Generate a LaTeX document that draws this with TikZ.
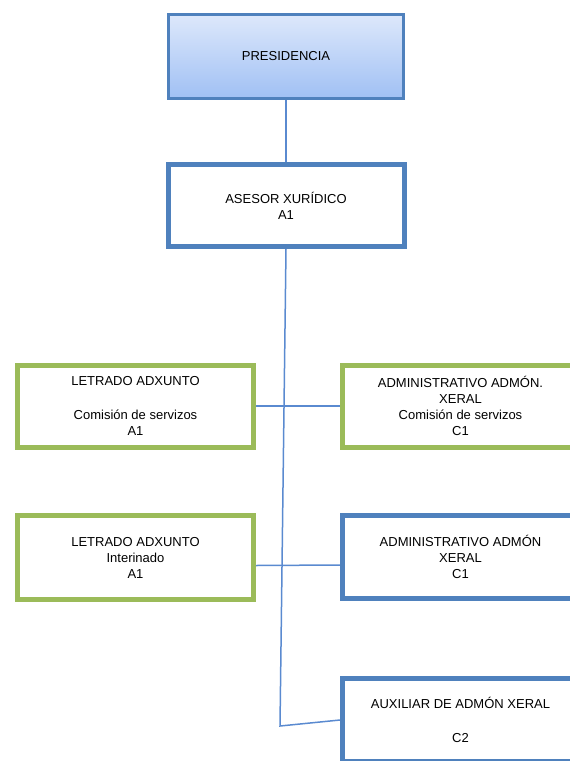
\documentclass[tikz,border=0pt]{standalone}
\usepackage{fontspec}
\setmainfont{Liberation Sans}
\usetikzlibrary{positioning,shadows,backgrounds}
\definecolor{orgblue}{HTML}{4F81BD}
\definecolor{orggreen}{HTML}{9BBB59}
\definecolor{lineblue}{HTML}{5A8AD0}
\definecolor{topblue}{HTML}{DDE8FB}
\definecolor{botblue}{HTML}{A0C0F4}

\begin{document}
\begin{tikzpicture}[x=1pt, y=-1pt,
  every node/.style = {shape=rectangle, align=center, inner sep=0pt,
    font=\fontsize{13}{16}\selectfont},
  cargo/.style = {draw, fill=white, line width=5pt,
    minimum width=236pt, minimum height=82pt},
  azul/.style = {cargo, draw=orgblue},
  verde/.style = {cargo, draw=orggreen},
  xefe/.style = {draw=orgblue, line width=3pt,
    minimum width=235pt, minimum height=84pt,
    top color=topblue, bottom color=botblue,
    drop shadow={shadow xshift=1.5pt, shadow yshift=-1.5pt, opacity=0.35}},
  enlace/.style = {draw=lineblue, line width=1.5pt}]
  \useasboundingbox (0,0) rectangle (570,761);
  \clip (0,0) rectangle (570,761);

  \node[xefe] (presidencia) at (286,56.5) {PRESIDENCIA};
  \node[azul, minimum height=82pt] (asesor) at (286,205.5) {ASESOR XURÍDICO\\A1};

  \node[verde] (letrado1) at (135.5,406) {LETRADO ADXUNTO\\[18pt]Comisión de servizos\\A1};
  \node[verde] (admin1) at (460.5,406) {ADMINISTRATIVO ADMÓN.\\XERAL\\Comisión de servizos\\C1};

  \node[verde, minimum height=84pt] (letrado2) at (135.5,557.5) {LETRADO ADXUNTO\\Interinado\\A1};
  \node[azul, minimum height=83pt] (admin2) at (460.5,557) {ADMINISTRATIVO ADMÓN\\XERAL\\C1};

  \node[azul, minimum height=83pt] (auxiliar) at (460.5,720) {AUXILIAR DE ADMÓN XERAL\\[18pt]C2};

  \coordinate (fondo) at (280,726);

  \begin{scope}[on background layer]
    \draw[enlace] (presidencia.south) -- (asesor.north);
    \draw[enlace] (asesor.south) -- (fondo) -- (auxiliar.west);
    \draw[enlace] (letrado1.east) -- (admin1.west);
    \draw[enlace] ([yshift=-8pt]letrado2.east) -- ([yshift=-8pt]admin2.west);
  \end{scope}
\end{tikzpicture}
\end{document}
